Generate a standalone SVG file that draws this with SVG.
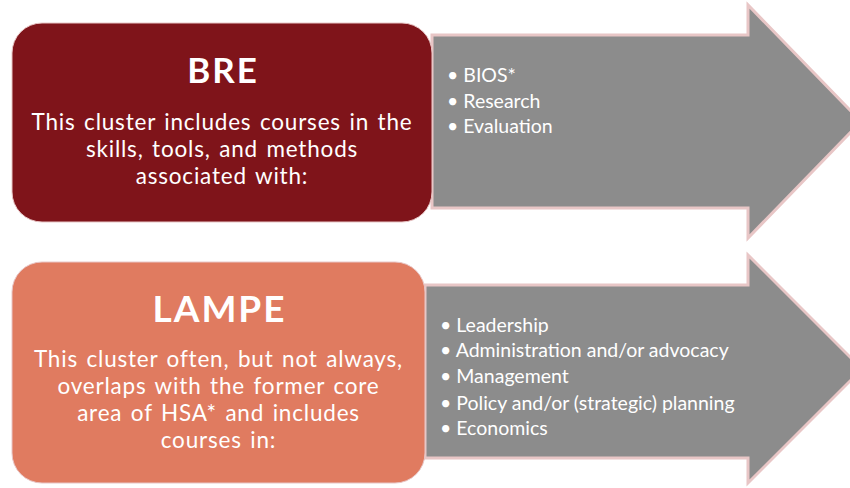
<svg xmlns="http://www.w3.org/2000/svg" width="850" height="488" viewBox="0 0 850 488">
<style>
.arrow{fill:#8c8c8c;stroke:#e8c6c6;stroke-width:3;stroke-linejoin:miter}
.title{font-family:Lato,"Open Sans",sans-serif;font-weight:bold;fill:#ffffff;text-anchor:middle;letter-spacing:2px}
.body{font-family:Lato,"Open Sans",sans-serif;fill:#ffffff;text-anchor:middle;font-size:22.5px;letter-spacing:0.8px;word-spacing:2px}
.item{font-family:Lato,"Open Sans",sans-serif;fill:#ffffff;font-size:19.5px}
</style>
<rect width="850" height="488" fill="#ffffff"/>
<g id="connectors">
<polygon id="arrow-bre" class="arrow" points="432,35 748,35 748,5 861,121.5 748,238 748,208 432,208"/>
<polygon id="arrow-lampe" class="arrow" points="425,285 748,285 748,255 862,369 748,483 748,458 425,458"/>
</g>
<g id="bre">
<rect x="12" y="23" width="420" height="199" rx="30" fill="#7f141a" stroke="#e8c6c6" stroke-width="1"/>
<text class="title" x="223" y="83" font-size="35">BRE</text>
<text class="body" x="222" y="130">This cluster includes courses in the</text>
<text class="body" x="222" y="157">skills, tools, and methods</text>
<text class="body" x="222" y="184">associated with:</text>
</g>
<g id="bre-items">
<text class="item" x="447" y="82">• BIOS*</text>
<text class="item" x="447" y="108">• Research</text>
<text class="item" x="447" y="133">• Evaluation</text>
</g>
<g id="lampe">
<rect x="12" y="262" width="413" height="221" rx="30" fill="#e07b60" stroke="#e8c6c6" stroke-width="1"/>
<text class="title" x="219.5" y="322" font-size="37">LAMPE</text>
<text class="body" x="218.5" y="367">This cluster often, but not always,</text>
<text class="body" x="218.5" y="394">overlaps with the former core</text>
<text class="body" x="218.5" y="421">area of HSA* and includes</text>
<text class="body" x="218.5" y="448">courses in:</text>
</g>
<g id="lampe-items">
<text class="item" x="440" y="332">• Leadership</text>
<text class="item" x="440" y="357">• Administration and/or advocacy</text>
<text class="item" x="440" y="383">• Management</text>
<text class="item" x="440" y="410">• Policy and/or (strategic) planning</text>
<text class="item" x="440" y="435">• Economics</text>
</g>
</svg>
